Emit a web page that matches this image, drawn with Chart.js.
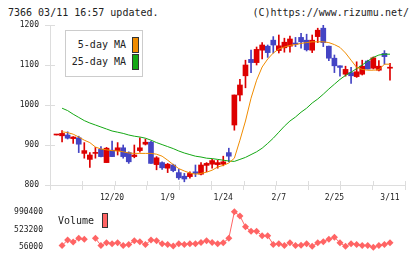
<!DOCTYPE html>
<html>
<head>
<meta charset="utf-8">
<script src="https://cdn.jsdelivr.net/npm/chart.js@4.4.1/dist/chart.umd.min.js"></script>
<style>
  body { margin: 0; background: #fff; width: 420px; height: 259px; overflow: hidden; position: relative;
         font-family: "DejaVu Sans Mono", monospace; color: #222; }
  canvas { position: absolute; left: 0; }
  #main { top: 0; }
  #vol { top: 200px; }
  .hd { position: absolute; top: 6px; font-size: 10px; line-height: 14px; white-space: pre; }
  .legend { position: absolute; left: 65px; top: 30px; width: 76px; height: 45px; border: 1px solid #ccc; background: #fff; }
  .item { position: absolute; right: 3px; font-size: 10px; line-height: 16px; white-space: pre; }
  .box { display: inline-block; width: 5px; height: 14px; border: 1px solid #333; vertical-align: top; margin-left: 6px; }
  .vlegend { position: absolute; left: 58px; top: 213px; font-size: 10px; line-height: 15px; white-space: pre; }
  .vlegend .box { width: 4px; height: 13px; margin-left: 8px; }
</style>
</head>
<body>
<div class="hd" style="left:8px">7366 03/11 16:57 updated.</div>
<div class="hd" style="right:11px">(C)https://www.rizumu.net/</div>
<canvas id="main" width="420" height="205"></canvas>
<canvas id="vol" width="420" height="59"></canvas>
<div class="legend">
  <div class="item" style="top:6px">5-day MA<span class="box" style="background:#f08c00"></span></div>
  <div class="item" style="top:23px">25-day MA<span class="box" style="background:#14a814"></span></div>
</div>
<div class="vlegend">Volume<span class="box" style="background:#ff6464"></span></div>
<script>
// trading days, 2024/12/06 - 2025/03/11
const dates = ['12/6','12/9','12/10','12/11','12/12','12/13','12/16','12/17','12/18','12/19',
  '12/20','12/23','12/24','12/25','12/26','12/27','12/30','1/6','1/7','1/8',
  '1/9','1/10','1/14','1/15','1/16','1/17','1/20','1/21','1/22','1/23',
  '1/24','1/27','1/28','1/29','1/30','1/31','2/3','2/4','2/5','2/6',
  '2/7','2/10','2/12','2/13','2/14','2/17','2/18','2/19','2/20','2/21',
  '2/25','2/26','2/27','2/28','3/3','3/4','3/5','3/6','3/7','3/10','3/11'];
const tickLabels = ['12/20', '1/9', '1/24', '2/7', '2/25', '3/11'];

const open  = [925,923,925,916,918,879,864,879,889,856,887,886,893,881,871,886,902,907,851,856,
  842,850,831,822,821,833,827,849,852,851,852,881,950,1025,1073,1114,1106,1137,1147,1162,
  1136,1143,1147,1155,1169,1162,1137,1171,1192,1147,1117,1098,1077,1081,1071,1077,1110,1092,1087,1129,1092];
const high  = [925,936,933,921,922,906,881,894,896,894,910,906,900,883,900,918,915,909,871,858,
  854,852,839,829,833,850,856,856,864,862,872,892,1025,1064,1112,1137,1145,1156,1150,1171,
  1175,1167,1172,1169,1179,1177,1175,1192,1200,1147,1125,1098,1097,1094,1108,1112,1112,1120,1111,1136,1104];
const low   = [925,908,915,904,881,867,844,867,870,856,871,875,867,854,868,882,900,854,838,839,
  831,833,814,808,817,821,825,833,842,842,848,858,937,1010,1043,1081,1100,1115,1119,1130,
  1130,1132,1132,1146,1142,1135,1131,1156,1146,1111,1081,1072,1072,1054,1069,1075,1090,1090,1085,1102,1062];
const close = [925,929,917,920,902,886,875,881,871,892,871,893,871,858,875,893,907,854,868,843,
  852,836,818,815,829,829,850,854,861,856,858,872,1025,1050,1100,1106,1139,1150,1131,1150,
  1148,1157,1165,1152,1158,1138,1162,1187,1156,1117,1098,1094,1089,1073,1083,1097,1090,1118,1097,1121,1094];
const ma5  = [null,933,931,927,920,912,906,895,890,888,886,885,883,880,879,879,879,879,877,872,
  862,851,841,835,830,827,829,832,837,845,849,855,867,912,960,1017,1062,1095,1115,1130,
  1140,1145,1149,1151,1154,1156,1158,1158,1158,1156,1151,1144,1130,1112,1094,1089,1087,1087,1088,1102,1102];
const ma25 = [null,992,986,977,969,961,955,950,945,940,935,932,929,925,922,920,917,912,906,901,
  896,891,885,880,876,872,870,867,866,864,862,860,859,864,869,876,883,892,904,917,
  932,947,960,970,982,992,1005,1015,1027,1040,1052,1064,1074,1082,1091,1100,1110,1119,1125,1127,1127];
const volume = [null,103000,243000,196000,290000,266000,null,290000,103000,173000,149000,
  173000,103000,126000,226000,203000,126000,243000,226000,149000,126000,
  86000,149000,126000,149000,149000,180000,226000,180000,149000,173000,
  290000,990400,880000,593000,476000,476000,360000,360000,126000,149000,
  103000,173000,103000,110000,149000,79000,173000,203000,266000,320000,
  173000,79000,149000,126000,103000,103000,56000,103000,126000,173000];
const volTicks = [56000, 523200, 990400];

const RED = '#dd0000', BLUE = '#4444c4', AXIS = '#dddddd';
const FONT = { family: '"DejaVu Sans Mono", monospace', size: 8 };
const XMIN = -1.17, XMAX = 62.7;
const candleColor = open.map((o, i) => close[i] >= o ? RED : BLUE);

const innerTicks = {
  id: 'innerTicks',
  beforeDatasetsDraw(chart) {
    const { ctx, chartArea: a, scales } = chart;
    ctx.save();
    ctx.strokeStyle = AXIS;
    ctx.lineWidth = 1;
    ctx.beginPath();
    scales.x.ticks.forEach(t => {
      if (t.lab) return;
      const px = Math.round(scales.x.getPixelForValue(t.value)) + 0.5;
      ctx.moveTo(px, a.bottom - 4);
      ctx.lineTo(px, a.bottom);
    });
    scales.y.ticks.forEach(t => {
      const py = Math.round(scales.y.getPixelForValue(t.value)) + 0.5;
      ctx.moveTo(a.left, py);
      ctx.lineTo(a.left + 5, py);
    });
    ctx.stroke();
    ctx.restore();
  }
};

new Chart(document.getElementById('main'), {
  type: 'bar',
  data: {
    datasets: [
      { type: 'line', label: '5-day MA', data: ma5.map((v, i) => ({ x: i, y: v })),
        borderColor: '#f08c00', borderWidth: 1, pointRadius: 0, order: 0 },
      { type: 'line', label: '25-day MA', data: ma25.map((v, i) => ({ x: i, y: v })),
        borderColor: '#14a814', borderWidth: 1, pointRadius: 0, order: 0 },
      { label: 'body', data: open.map((o, i) => ({ x: i, y: [o, close[i]] })),
        backgroundColor: candleColor, barThickness: 5, minBarLength: 1, grouped: false, order: 1 },
      { label: 'wick', data: low.map((l, i) => ({ x: i, y: [l, high[i]] })),
        backgroundColor: candleColor, barThickness: 1, grouped: false, order: 2 }
    ]
  },
  options: {
    responsive: false,
    animation: false,
    layout: { padding: { left: 0, right: 15, top: 25, bottom: 0 } },
    plugins: { legend: { display: false }, tooltip: { enabled: false } },
    scales: {
      x: {
        type: 'linear', min: XMIN, max: XMAX, offset: false,
        afterBuildTicks: s => {
          const t = [];
          for (let n = 0; n <= 11; n++) t.push({ value: XMIN + n * (XMAX - XMIN) / 11 });
          tickLabels.forEach(l => t.push({ value: dates.indexOf(l), lab: l }));
          s.ticks = t.sort((a, b) => a.value - b.value);
        },
        afterFit: s => { s.height = 20; },
        ticks: { autoSkip: false, maxRotation: 0, padding: 3, font: FONT, color: '#222',
                 callback: (v, i, ticks) => ticks[i].lab || '' },
        grid: { offset: false, drawOnChartArea: false, tickLength: 5,
                color: c => (c.tick && c.tick.lab) ? 'rgba(0,0,0,0)' : AXIS },
        border: { color: AXIS }
      },
      y: {
        min: 800, max: 1200,
        afterFit: s => { s.width = 50; },
        ticks: { stepSize: 100, padding: 6, font: FONT, color: '#222', callback: v => String(v) },
        grid: { drawOnChartArea: false, tickLength: 5, color: AXIS },
        border: { color: AXIS }
      }
    }
  },
  plugins: [innerTicks]
});

new Chart(document.getElementById('vol'), {
  type: 'line',
  data: {
    datasets: [{
      label: 'Volume', data: volume.map((v, i) => ({ x: i, y: v })),
      borderColor: '#ff6464', backgroundColor: '#ff6464', borderWidth: 1,
      pointStyle: 'rectRot', pointRadius: 3.5, pointBorderWidth: 0, pointBackgroundColor: '#ff6464',
      spanGaps: false, clip: false
    }]
  },
  options: {
    responsive: false,
    animation: false,
    layout: { padding: { left: 0, right: 15, top: 8, bottom: 11 } },
    plugins: { legend: { display: false }, tooltip: { enabled: false } },
    scales: {
      x: { type: 'linear', min: XMIN, max: XMAX, display: false },
      y: {
        min: volTicks[0], max: volTicks[2],
        afterBuildTicks: s => { s.ticks = volTicks.map(v => ({ value: v })); },
        afterFit: s => { s.width = 50; },
        ticks: { padding: 7, font: FONT, color: '#222', callback: v => String(v) },
        grid: { display: false, drawTicks: false },
        border: { display: false }
      }
    }
  }
});
</script>
</body>
</html>
